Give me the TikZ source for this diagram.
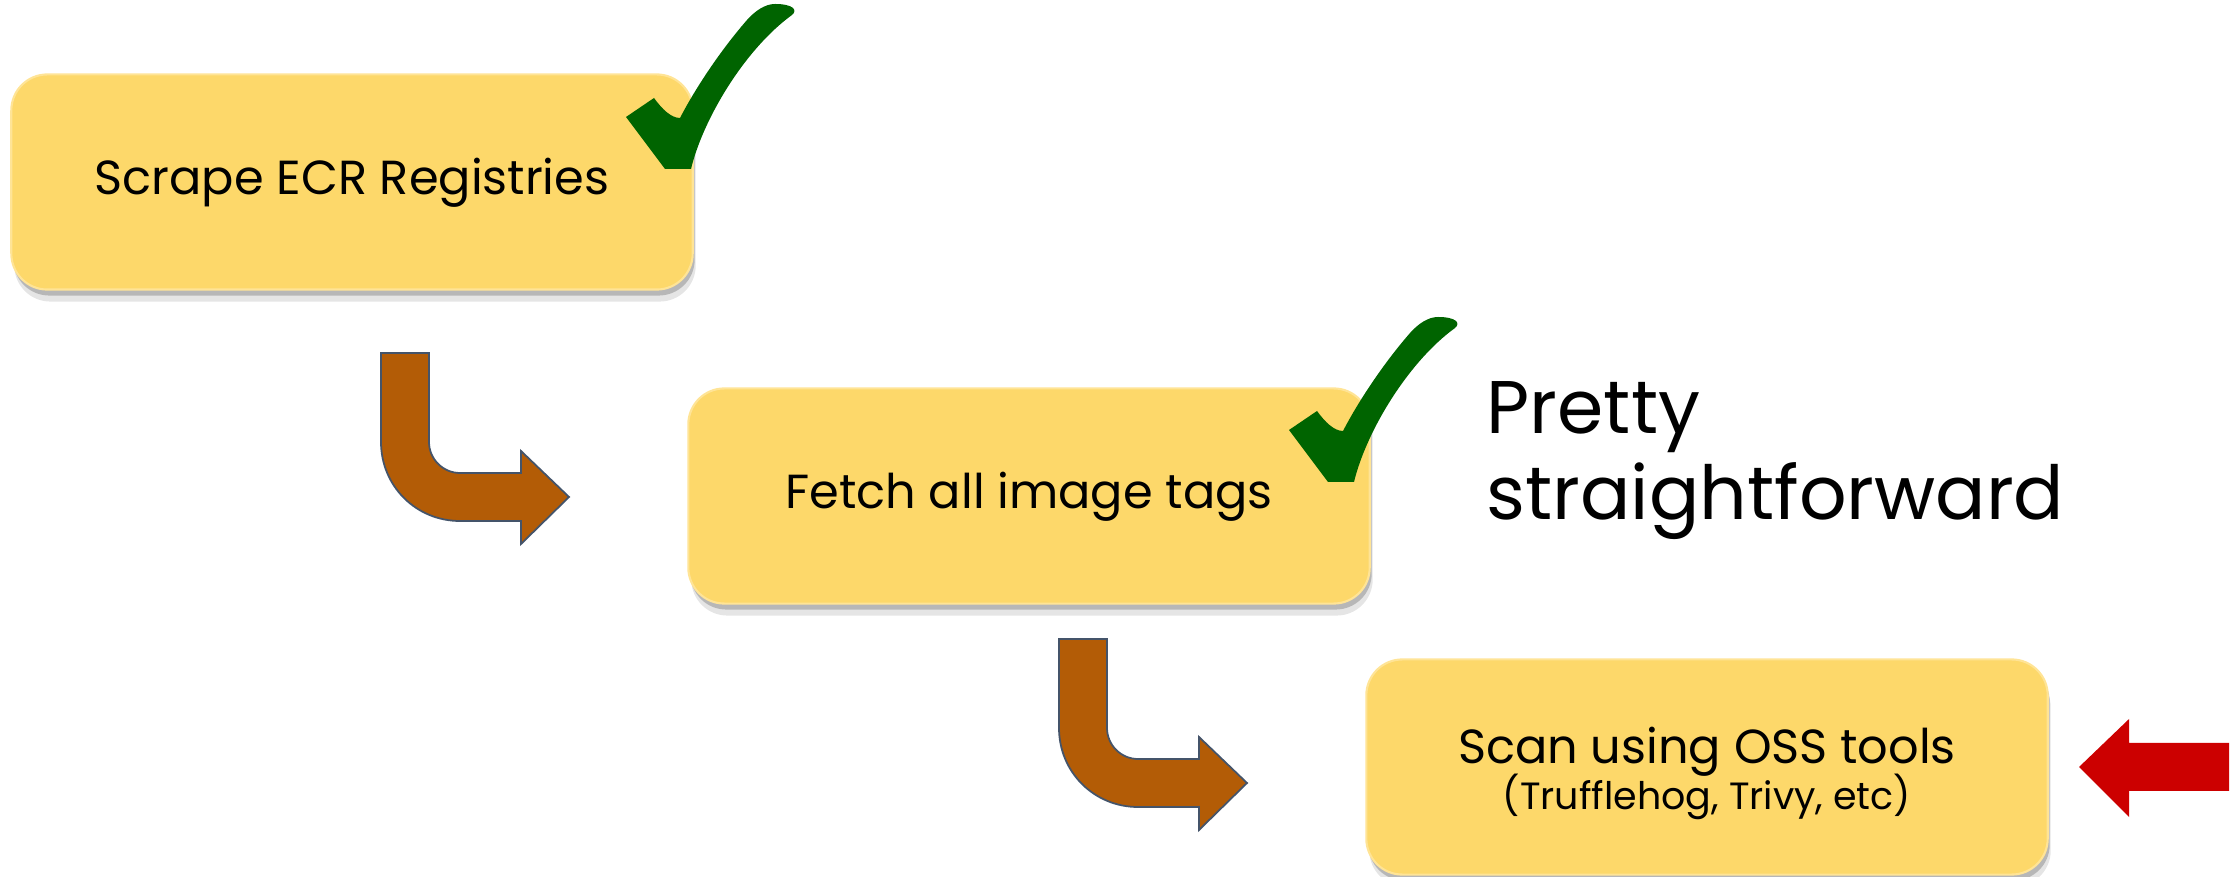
\documentclass[tikz,border=0pt]{standalone}
\usepackage{fontspec}
\setmainfont{Poppins}
\usetikzlibrary{shadows}
\definecolor{boxyellow}{RGB}{253,216,106}
\definecolor{boxedge}{RGB}{255,228,150}
\definecolor{bentbrown}{RGB}{179,92,6}
\definecolor{bentedge}{RGB}{68,84,106}
\definecolor{tickgreen}{RGB}{0,134,0}
\definecolor{tickdark}{RGB}{0,100,0}
\definecolor{pointred}{RGB}{204,0,0}
\tikzstyle{stage}=[rounded corners=3.6mm,fill=boxyellow,draw=boxedge,line width=0.6pt,minimum width=6.81cm,minimum height=2.15cm,align=center,text height=1.05em,text depth=0.35em,font=\fontsize{13.6}{17}\selectfont,
  drop shadow={shadow xshift=0.3mm,shadow yshift=-1.2mm,fill=black,opacity=0.1},
  drop shadow={shadow xshift=0.2mm,shadow yshift=-0.6mm,fill=black,opacity=0.2}]
\tikzstyle{bentbody}=[fill=bentbrown,draw=bentedge,line width=0.5pt]
\tikzstyle{tickbody}=[top color=tickdark,middle color=tickgreen,bottom color=tickdark]
\tikzstyle{pointer}=[fill=pointred]
\tikzset{
  greentick/.pic={
    \path[tickbody] (0,0) -- (26,0) .. controls (38,-50) and (80,-120) .. (127,-154)
      .. controls (133,-159) and (128,-165) .. (110,-165)
      .. controls (100,-165) and (90,-158) .. (82,-149)
      .. controls (55,-118) and (30,-80) .. (15,-51)
      .. controls (6,-51) and (-3,-60) .. (-11,-71) -- (-39,-52) -- cycle;
  },
  bentarrow/.pic={
    \path[bentbody] (0,0) -- (0,89) .. controls (0,133) and (35,168) .. (79,168)
      -- (140,168) -- (140,191) -- (188,144) -- (140,98) -- (140,120) -- (79,120)
      .. controls (62,120) and (48,106) .. (48,89) -- (48,0) -- cycle;
  }
}

\begin{document}
\begin{tikzpicture}[x=0.01cm,y=-0.01cm]
  \useasboundingbox (0,0) rectangle (2240,877);

  \node[stage] (scrape) at (352,182) {Scrape ECR Registries};
  \node[stage] (fetch) at (1029,496) {Fetch all image tags};
  \node[stage,text height=,text depth=] (scan) at (1707,767) {\rule{0pt}{14pt}Scan using OSS tools\\[-4pt]{\fontsize{10.8}{13}\selectfont(Trufflehog, Trivy, etc)}};

  \pic at (665,169) {greentick};
  \pic at (1328,482) {greentick};
  \pic at (381,353) {bentarrow};
  \pic at (1059,639) {bentarrow};

  \node[anchor=north west,align=left,inner sep=0,font=\fontsize{21.2}{24.5}\selectfont] (note) at (1486,381) {Pretty\\straightforward};

  %\draw (scan.east) -- ++(30,0);
  \path[pointer] (2229,743) -- (2129,743) -- (2129,719) -- (2079,767) -- (2129,817) -- (2129,791) -- (2229,791) -- cycle;
\end{tikzpicture}
\end{document}
